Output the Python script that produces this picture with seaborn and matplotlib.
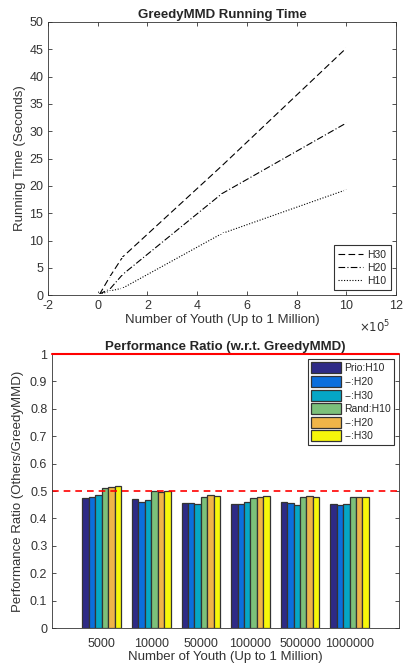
import numpy as np
import pandas as pd
import seaborn as sns
import matplotlib.pyplot as plt

# Данные: время работы GreedyMMD
youth = [5000, 10000, 50000, 100000, 500000, 1000000]
h30_time = [0.2, 0.4, 3.5, 7.0, 23.7, 45.2]
h20_time = [0.2, 0.3, 1.2, 3.8, 18.6, 31.5]
h10_time = [0.1, 0.2, 0.8, 1.3, 11.3, 19.3]

# Данные: отношение производительности
groups = ['5000', '10000', '50000', '100000', '500000', '1000000']
methods = ['Prio:H10', '--:H20', '--:H30', 'Rand:H10', '--:H20 ', '--:H30 ']
ratio = [
    [0.475, 0.480, 0.485, 0.510, 0.515, 0.518],
    [0.470, 0.460, 0.468, 0.500, 0.495, 0.500],
    [0.455, 0.455, 0.453, 0.478, 0.487, 0.483],
    [0.453, 0.451, 0.460, 0.475, 0.480, 0.483],
    [0.460, 0.456, 0.449, 0.480, 0.482, 0.480],
    [0.452, 0.449, 0.453, 0.480, 0.479, 0.479],
]
bar_colors = ['#2e2a86', '#0b6fdd', '#05a6c6', '#7cc07a', '#efb548', '#f7f70a']

sns.set_style('ticks')
plt.rcParams['font.family'] = ['Liberation Sans', 'DejaVu Sans']
plt.rcParams['xtick.direction'] = 'in'
plt.rcParams['ytick.direction'] = 'in'
plt.rcParams['xtick.top'] = True
plt.rcParams['ytick.right'] = True

fig = plt.figure(figsize=(4.04, 6.65), dpi=100)

# Верхний график
ax1 = fig.add_axes([0.119, 0.556, 0.861, 0.411])
df1 = pd.DataFrame({
    'x': youth * 3,
    'y': h30_time + h20_time + h10_time,
    'series': ['H30'] * 6 + ['H20'] * 6 + ['H10'] * 6,
})
sns.lineplot(data=df1, x='x', y='y', hue='series', style='series',
             palette=['black'] * 3, dashes={'H30': (6, 3), 'H20': (6, 2, 1, 2), 'H10': (1, 1.5)},
             markers={'H30': '_', 'H20': '_', 'H10': '_'}, markersize=5,
             linewidth=0.8, ax=ax1)
ax1.set_xlim(-200000, 1200000)
ax1.set_ylim(0, 50)
ax1.set_xticks(np.arange(-200000, 1200001, 200000))
ax1.set_xticklabels(['-2', '0', '2', '4', '6', '8', '10', '12'])
ax1.set_yticks(range(0, 51, 5))
ax1.text(0.985, -0.085, r'$\times10^5$', transform=ax1.transAxes, ha='right', va='top',
         fontsize=8.5, color='#333333')
ax1.set_xlabel('Number of Youth (Up to 1 Million)', fontsize=9.5, color='#333333', labelpad=1)
ax1.set_ylabel('Running Time (Seconds)', fontsize=9.5, color='#333333', labelpad=2)
ax1.set_title('GreedyMMD Running Time', fontsize=9.5, fontweight='bold', pad=3)
leg1 = ax1.legend(title=None, loc='lower right', fontsize=7.5, handlelength=2.4,
                  fancybox=False, edgecolor='black', borderpad=0.4, labelspacing=0.3,
                  handletextpad=0.4)
leg1.get_frame().set_linewidth(0.8)
for h in leg1.get_lines():
    h.set_marker('')
ax1.tick_params(labelsize=9, length=3, width=0.6, colors='#333333')

# Нижний график
ax2 = fig.add_axes([0.129, 0.0556, 0.859, 0.412])
df2 = pd.DataFrame([(g, m, ratio[i][j]) for i, g in enumerate(groups) for j, m in enumerate(methods)],
                   columns=['group', 'method', 'ratio'])
sns.barplot(data=df2, x='group', y='ratio', hue='method', palette=bar_colors, saturation=1,
            width=0.78, edgecolor='#333333', linewidth=0.9, ax=ax2)
ax2.axhline(0.5, color='red', linestyle='--', linewidth=1.2, dashes=(4, 3))
ax2.axhline(1.0, color='red', linewidth=1.5, clip_on=False, zorder=5)
ax2.set_xlim(-1, 6)
ax2.set_ylim(0, 1)
ax2.set_yticks(np.arange(0, 1.01, 0.1))
ax2.set_yticklabels(['0', '0.1', '0.2', '0.3', '0.4', '0.5', '0.6', '0.7', '0.8', '0.9', '1'])
ax2.set_xlabel('Number of Youth (Up to 1 Million)', fontsize=9.5, color='#333333', labelpad=1)
ax2.set_ylabel('Performance Ratio (Others/GreedyMMD)', fontsize=9.5, color='#333333', labelpad=4)
ax2.set_title('Performance Ratio (w.r.t. GreedyMMD)', fontsize=9.5, fontweight='bold', pad=3)
handles, labels = ax2.get_legend_handles_labels()
leg2 = ax2.legend(handles, [l.strip() for l in labels], title=None, loc='upper right',
                  fontsize=7.5, fancybox=False, edgecolor='black', handlelength=2.9,
                  handleheight=1.25, borderpad=0.3, labelspacing=0.25, handletextpad=0.3,
                  borderaxespad=0.5)
leg2.get_frame().set_linewidth(0.8)
ax2.tick_params(labelsize=9, length=3, width=0.6, colors='#333333')
ax2.tick_params(axis='x', top=False, length=0, pad=7)

for ax in (ax1, ax2):
    for s in ax.spines.values():
        s.set_linewidth(0.6)
        s.set_color('#333333')

plt.savefig('out.png', dpi=100)
